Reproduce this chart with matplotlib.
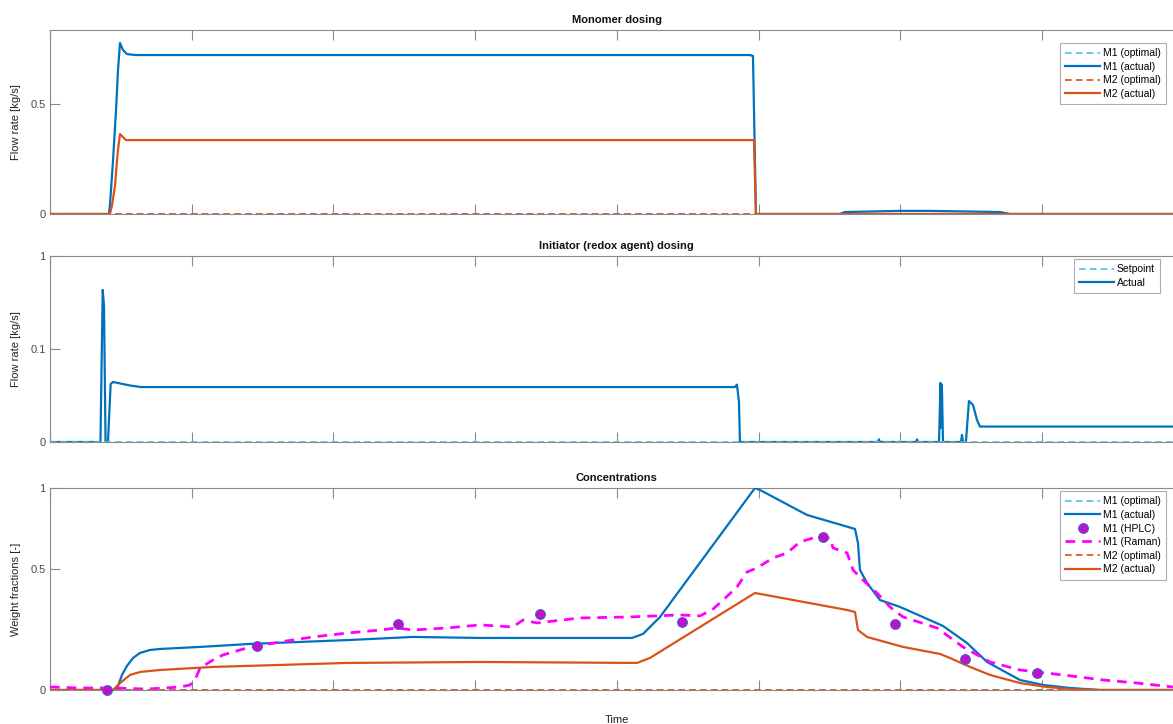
import numpy as np
import matplotlib
matplotlib.use("Agg")
import matplotlib.pyplot as plt

plt.rcParams['font.family'] = ['Liberation Sans', 'DejaVu Sans']

# ---------------- data (time in tick units) ----------------
# Panel 1: monomer dosing [kg/s]
t_m1_flow = [0, 0.416, 0.423, 0.445, 0.466, 0.480, 0.494, 0.515, 0.543, 0.600,
             4.940, 4.961, 4.982, 5.575, 5.610, 5.999, 6.210, 6.704, 6.775, 8.0]
m1_flow_actual = [0, 0, 0.032, 0.215, 0.465, 0.709, 0.900, 0.848, 0.819, 0.812,
                  0.812, 0.805, 0, 0, 0.007, 0.011, 0.011, 0.007, 0, 0]
t_m2_flow = [0, 0.423, 0.438, 0.459, 0.473, 0.480, 0.494, 0.536, 4.968, 4.982, 8.0]
m2_flow_actual = [0, 0, 0.032, 0.109, 0.215, 0.261, 0.338, 0.308, 0.308, 0, 0]
t_opt = [0, 8.0]
opt_zero = [0, 0]

# Panel 2: initiator dosing [kg/s]
t_ini = [0, 0.356, 0.372, 0.381, 0.392, 0.409, 0.428, 0.445, 0.565, 0.642,
         4.834, 4.848, 4.862, 4.869, 5.843, 5.850, 5.857, 6.112, 6.119, 6.126,
         6.274, 6.284, 6.289, 6.294, 6.302, 6.429, 6.436, 6.443, 6.464, 6.485,
         6.514, 6.542, 6.563, 8.0]
ini_actual = [0, 0, 0.441, 0.30, 0, 0, 0.0367, 0.0391, 0.035, 0.0333,
              0.0333, 0.036, 0.02, 0, 0, 0.0008, 0, 0, 0.0008, 0,
              0, 0.038, 0.005, 0.036, 0, 0, 0.00225, 0, 0, 0.0204,
              0.0175, 0.0085, 0.0055, 0.0055]

# Panel 3: concentrations [-]
t_m1_conc = [0, 0.459, 0.480, 0.508, 0.543, 0.586, 0.635, 0.706, 0.776, 1.059,
             1.411, 1.764, 2.117, 2.562, 3.035, 4.107, 4.185, 4.305, 4.975, 5.011,
             5.342, 5.681, 5.702, 5.716, 5.766, 5.857, 5.999, 6.302, 6.471, 6.613,
             6.845, 7.008, 7.198, 7.410, 8.0]
m1_conc_actual = [0, 0, 0.013, 0.0498, 0.0811, 0.1098, 0.1283, 0.1394, 0.1432, 0.1510,
                  0.1625, 0.1702, 0.1779, 0.1899, 0.1859, 0.1859, 0.2019, 0.2726, 1.0, 0.9856,
                  0.8155, 0.7269, 0.6437, 0.4951, 0.4294, 0.3482, 0.3166, 0.2346, 0.1664, 0.0953,
                  0.0328, 0.0164, 0.0066, 0, 0]
t_m2_conc = [0, 0.445, 0.494, 0.565, 0.635, 0.776, 1.150, 2.096, 3.035, 4.143, 4.234,
             4.975, 5.625, 5.681, 5.702, 5.766, 6.020, 6.281, 6.351, 6.493, 6.634,
             6.845, 7.036, 7.198, 7.410, 8.0]
m2_conc_actual = [0, 0, 0.0227, 0.0498, 0.060, 0.0669, 0.0776, 0.0918, 0.0953, 0.0918, 0.1098,
                  0.381, 0.303, 0.2943, 0.2179, 0.1899, 0.151, 0.1246, 0.1098, 0.0776, 0.0498,
                  0.0227, 0.0096, 0.003, 0, 0]
t_raman = [0, 0.212, 0.445, 0.685, 0.917, 0.988, 1.023, 1.059, 1.150, 1.221,
           1.390, 1.623, 1.856, 2.096, 2.329, 2.449, 2.562, 2.802, 3.035, 3.267,
           3.338, 3.437, 3.740, 4.093, 4.446, 4.587, 4.679, 4.750, 4.848, 4.919,
           4.989, 5.102, 5.201, 5.293, 5.385, 5.505, 5.526, 5.625, 5.667, 5.737,
           5.836, 5.928, 6.020, 6.260, 6.443, 6.634, 6.845, 7.149, 7.431, 7.671, 7.925]
m1_raman = [0.0097, 0.0065, 0.0065, 0.003, 0.0097, 0.0162, 0.0328, 0.074, 0.1024, 0.1209,
            0.1471, 0.1702, 0.1899, 0.2054, 0.2179, 0.2262, 0.2179, 0.2262, 0.2388, 0.2304,
            0.2596, 0.2471, 0.2683, 0.2726, 0.2813, 0.277, 0.307, 0.348, 0.4098, 0.4849,
            0.5057, 0.5592, 0.5868, 0.6494, 0.6729, 0.6729, 0.6149, 0.5868, 0.4951, 0.4441,
            0.381, 0.3166, 0.2726, 0.2262, 0.151, 0.0953, 0.0669, 0.0498, 0.0328, 0.0227, 0.0097]
t_hplc = [0.402, 1.461, 2.456, 3.458, 4.460, 5.455, 5.963, 6.457, 6.965]
m1_hplc = [0, 0.1548, 0.2429, 0.2856, 0.2512, 0.6789, 0.2429, 0.1061, 0.0562]

# ---------------- styling ----------------
BLUE = '#0072BD'
LBLUE = '#4DBEEE'
ORANGE = '#D95319'
MAG = '#FF00FF'
AXC = '#8a8a8a'
TXT = '#4a4a4a'


def offset_log_scale(c):
    def fwd(y):
        y = np.asarray(y, dtype=float)
        return np.log(np.maximum(y + c, 1e-12))

    def inv(t):
        return np.exp(np.asarray(t, dtype=float)) - c
    return fwd, inv


W, H = 1173, 724
fig = plt.figure(figsize=(W / 100, H / 100), dpi=100)

left = 50 / W
width = 8 * 141.7 / W


def make_ax(top_px, bot_px):
    return fig.add_axes([left, (H - bot_px) / H, width, (bot_px - top_px) / H])


ax1 = make_ax(30, 214)
ax2 = make_ax(256, 442)
ax3 = make_ax(488, 690)

for ax in (ax1, ax2, ax3):
    ax.set_xlim(0, 8)
    ax.set_xticks(np.arange(0, 9, 1))
    ax.tick_params(axis='x', which='both', direction='in', length=7, width=0.8,
                   color=AXC, top=True, bottom=True, labelbottom=False)
    ax.tick_params(axis='y', which='both', direction='in', length=7, width=0.8,
                   color=AXC, left=True, right=True, labelsize=8, labelcolor=TXT, pad=3)
    for s in ax.spines.values():
        s.set_color(AXC)
        s.set_linewidth(0.8)

lw = 1.6
dash = (4, 2.5)

# Panel 1
f1, i1 = offset_log_scale(0.8)
ax1.set_yscale('function', functions=(f1, i1))
ax1.plot(t_opt, opt_zero, color=LBLUE, lw=1.2, ls='--', dashes=dash, label='M1 (optimal)', zorder=3)
ax1.plot(t_m1_flow, m1_flow_actual, color=BLUE, lw=lw, label='M1 (actual)', zorder=2)
ax1.plot(t_opt, opt_zero, color=ORANGE, lw=1.2, ls='--', dashes=dash, label='M2 (optimal)', zorder=4)
ax1.plot(t_m2_flow, m2_flow_actual, color=ORANGE, lw=lw, label='M2 (actual)', zorder=3)
ax1.set_ylim(0, 1)
ax1.set_yticks([0, 0.5])
ax1.set_yticklabels(['0', '0.5'])
ax1.yaxis.set_minor_locator(matplotlib.ticker.NullLocator())
ax1.set_ylabel('Flow rate [kg/s]', fontsize=8, color='#222222', labelpad=7)
ax1.set_title('Monomer dosing', fontsize=8, fontweight='bold', pad=5, color='#111111')

# Panel 2
f2, i2 = offset_log_scale(0.0125)
ax2.set_yscale('function', functions=(f2, i2))
ax2.plot(t_opt, opt_zero, color=LBLUE, lw=1.2, ls='--', dashes=dash, label='Setpoint', zorder=3)
ax2.plot(t_ini, ini_actual, color=BLUE, lw=lw, label='Actual', zorder=2)
ax2.set_ylim(0, 1)
ax2.set_yticks([0, 0.1, 1])
ax2.set_yticklabels(['0', '0.1', '1'])
ax2.yaxis.set_minor_locator(matplotlib.ticker.NullLocator())
ax2.set_ylabel('Flow rate [kg/s]', fontsize=8, color='#222222', labelpad=7)
ax2.set_title('Initiator (redox agent) dosing', fontsize=8, fontweight='bold', pad=5, color='#111111')

# Panel 3
ax3.set_yscale('function', functions=(f1, i1))
ax3.plot(t_opt, opt_zero, color=LBLUE, lw=1.2, ls='--', dashes=dash, label='M1 (optimal)', zorder=3)
ax3.plot(t_m1_conc, m1_conc_actual, color=BLUE, lw=lw, label='M1 (actual)', zorder=3)
ax3.plot(t_hplc, m1_hplc, ls='none', marker='o', ms=7, mfc='#C010C8', mec='#4A5AD0',
         mew=0.8, label='M1 (HPLC)', zorder=5, clip_on=False)
ax3.plot(t_raman, m1_raman, color=MAG, lw=2.0, ls='--', dashes=(3.5, 2.5), label='M1 (Raman)', zorder=4)
ax3.plot(t_opt, opt_zero, color=ORANGE, lw=1.2, ls='--', dashes=dash, label='M2 (optimal)', zorder=4)
ax3.plot(t_m2_conc, m2_conc_actual, color=ORANGE, lw=lw, label='M2 (actual)', zorder=3)
ax3.set_ylim(0, 1)
ax3.set_yticks([0, 0.5, 1])
ax3.set_yticklabels(['0', '0.5', '1'])
ax3.yaxis.set_minor_locator(matplotlib.ticker.NullLocator())
ax3.set_ylabel('Weight fractions [-]', fontsize=8, color='#222222', labelpad=7)
ax3.set_title('Concentrations', fontsize=8, fontweight='bold', pad=5, color='#111111')
ax3.set_xlabel('Time', fontsize=8, color='#222222', labelpad=18)

leg_kw = dict(fontsize=7.5, handlelength=3.3, frameon=True, fancybox=False,
              edgecolor='#9a9a9a', borderaxespad=0, bbox_transform=fig.transFigure,
              loc='upper right', labelspacing=0.35, borderpad=0.5, handletextpad=0.3)
l1 = ax1.legend(bbox_to_anchor=(1166 / W, 1 - 43 / H), **leg_kw)
l2 = ax2.legend(bbox_to_anchor=(1160 / W, 1 - 259 / H), **leg_kw)
l3 = ax3.legend(bbox_to_anchor=(1166 / W, 1 - 491 / H), **leg_kw)
for lg in (l1, l2, l3):
    lg.get_frame().set_linewidth(0.8)

fig.savefig('out.png', dpi=100)
